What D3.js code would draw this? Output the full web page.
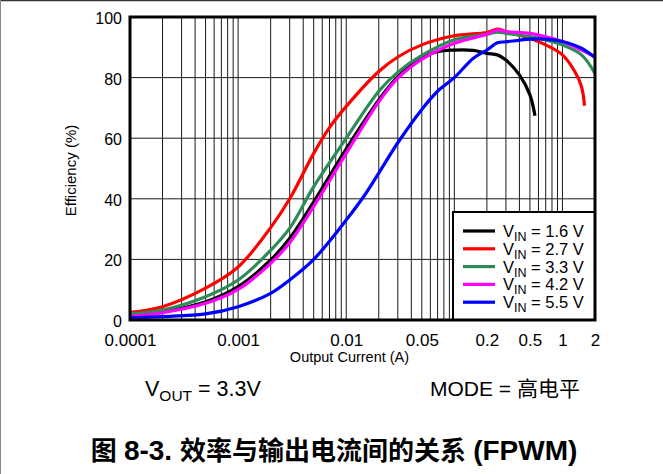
<!DOCTYPE html>
<html>
<head>
<meta charset="utf-8">
<script src="https://cdn.jsdelivr.net/npm/d3@7"></script>
<style>
  html, body { margin: 0; padding: 0; background: #fff; }
  svg { display: block; }
  text { font-family: "Liberation Sans", Arial, "Noto Sans CJK SC", sans-serif; fill: #000; }
</style>
</head>
<body>
<svg id="chart" width="663" height="474"></svg>
<script>
// Efficiency vs. output current, FPWM mode, VOUT = 3.3 V
const seriesNames = ["1.6 V", "2.7 V", "3.3 V", "4.2 V", "5.5 V"];
const seriesColors = ["#000000", "#ff0000", "#2e8b57", "#ff00ff", "#0000ff"];

const vin16X = [0.0001, 0.0002, 0.0005, 0.001, 0.002, 0.003, 0.005, 0.01, 0.02, 0.03, 0.05, 0.07, 0.1, 0.15, 0.2, 0.25, 0.3, 0.4, 0.5, 0.557];
const vin16Y = [1.7, 2.7, 6, 11, 19.8, 27, 39, 56.5, 72.6, 80.3, 86.4, 88.6, 89.1, 89, 88, 87.5, 85.8, 80.9, 74.3, 67.4];

const vin27X = [0.0001, 0.0002, 0.0005, 0.001, 0.002, 0.003, 0.005, 0.007, 0.01, 0.02, 0.03, 0.05, 0.1, 0.2, 0.25, 0.3, 0.5, 0.7, 1, 1.3, 1.5, 1.6];
const vin27Y = [2.5, 4.4, 10.5, 17.5, 30.5, 40, 55, 63.5, 70.5, 82, 86.8, 90.8, 93.8, 94.9, 96, 95.2, 93, 90.8, 87.5, 82, 77, 70.7];

const vin33X = [0.0001, 0.0002, 0.0005, 0.001, 0.002, 0.003, 0.005, 0.01, 0.02, 0.03, 0.05, 0.1, 0.2, 0.25, 0.3, 0.5, 0.7, 1, 1.5, 2];
const vin33Y = [2, 3.3, 7.7, 13.2, 23, 30.3, 44, 60, 75.5, 81.8, 87.3, 92.5, 94.3, 95, 94.6, 93.5, 92.4, 90.8, 87.5, 81.4];

const vin42X = [0.0001, 0.0002, 0.0005, 0.001, 0.002, 0.003, 0.005, 0.01, 0.02, 0.03, 0.05, 0.1, 0.2, 0.25, 0.3, 0.5, 0.7, 1, 1.5, 2];
const vin42Y = [1.2, 2.4, 5.5, 10.1, 18.7, 25.5, 37.5, 55, 72, 79.8, 86, 91.3, 94.3, 95.7, 95.2, 94.6, 93.5, 91.9, 89.1, 86.9];

const vin55X = [0.0001, 0.0002, 0.0005, 0.001, 0.002, 0.003, 0.005, 0.01, 0.015, 0.02, 0.03, 0.05, 0.07, 0.1, 0.15, 0.2, 0.25, 0.3, 0.5, 0.7, 1, 1.5, 2];
const vin55Y = [0.7, 1.1, 2, 4.4, 8.8, 13.2, 20, 33, 41.5, 48.5, 58.5, 69.5, 75.5, 80, 86.4, 89.1, 91.5, 91.8, 92.7, 92.7, 91.9, 89.7, 86.6];

const xTickValues = [0.0001, 0.001, 0.01, 0.05, 0.2, 0.5, 1, 2];
const xTickLabels = ["0.0001", "0.001", "0.01", "0.05", "0.2", "0.5", "1", "2"];
const yTickValues = [0, 20, 40, 60, 80, 100];

const seriesX = [vin16X, vin27X, vin33X, vin42X, vin55X];
const seriesY = [vin16Y, vin27Y, vin33Y, vin42Y, vin55Y];
const series = seriesNames.map((name, i) => ({
  name, color: seriesColors[i],
  points: seriesX[i].map((x, j) => ({ x, y: seriesY[i][j] }))
}));

const svg = d3.select("#chart");
const W = 663, H = 474;
const plot = { left: 130, right: 595, top: 17, bottom: 320 };

// page frame
svg.append("rect").attr("width", W).attr("height", H).attr("fill", "#fff");
svg.append("line").attr("x1", 0).attr("x2", W).attr("y1", 0.5).attr("y2", 0.5)
  .attr("stroke", "#333").attr("stroke-width", 1.5);
svg.append("line").attr("x1", 0.5).attr("x2", 0.5).attr("y1", 0).attr("y2", H)
  .attr("stroke", "#888").attr("stroke-width", 1);

const x = d3.scaleLog().domain([0.0001, 2]).range([plot.left, plot.right]);
const y = d3.scaleLinear().domain([0, 100]).range([plot.bottom, plot.top]);

// grid
const grid = svg.append("g");
grid.selectAll("line.vx")
  .data(x.ticks().filter(t => t > 0.0001 && t < 2))
  .join("line")
  .attr("x1", d => x(d)).attr("x2", d => x(d))
  .attr("y1", plot.top).attr("y2", plot.bottom)
  .attr("stroke", "#1a1a1a").attr("stroke-width", 1);
grid.selectAll("line.hy")
  .data(yTickValues.filter(t => t > 0 && t < 100))
  .join("line")
  .attr("x1", plot.left).attr("x2", plot.right)
  .attr("y1", d => y(d)).attr("y2", d => y(d))
  .attr("stroke", "#1a1a1a").attr("stroke-width", 1);

// curves
svg.append("clipPath").attr("id", "plotClip")
  .append("rect").attr("x", plot.left).attr("y", plot.top)
  .attr("width", plot.right - plot.left).attr("height", plot.bottom - plot.top);

const line = d3.line().x(d => x(d.x)).y(d => y(d.y)).curve(d3.curveCatmullRom.alpha(0.5));
svg.append("g").attr("clip-path", "url(#plotClip)")
  .selectAll("path")
  .data(series)
  .join("path")
  .attr("d", d => line(d.points))
  .attr("fill", "none")
  .attr("stroke", d => d.color)
  .attr("stroke-width", 3.2)
  .attr("stroke-linejoin", "round");

// legend
const lg = { x0: 453, y0: 212 };
svg.append("rect")
  .attr("x", lg.x0).attr("y", lg.y0)
  .attr("width", plot.right - lg.x0).attr("height", plot.bottom - lg.y0)
  .attr("fill", "#fff").attr("stroke", "#000").attr("stroke-width", 2);
const rows = svg.append("g").selectAll("g").data(series).join("g")
  .attr("transform", (d, i) => `translate(0, ${231 + i * 17.8})`);
rows.append("line").attr("x1", 463).attr("x2", 495).attr("y1", 0).attr("y2", 0)
  .attr("stroke", d => d.color).attr("stroke-width", 3.2);
const lt = rows.append("text").attr("x", 503).attr("y", 6).attr("font-size", 16.5);
lt.append("tspan").text("V");
lt.append("tspan").attr("dy", 4).attr("font-size", 12.5).text("IN");
lt.append("tspan").attr("dy", -4).text(d => " = " + d.name);

// plot border
svg.append("rect")
  .attr("x", plot.left).attr("y", plot.top)
  .attr("width", plot.right - plot.left).attr("height", plot.bottom - plot.top)
  .attr("fill", "none").attr("stroke", "#000").attr("stroke-width", 3);

// axes (labels only; grid and frame drawn above)
const xAxis = d3.axisBottom(x).tickValues(xTickValues)
  .tickFormat((d, i) => xTickLabels[i]).tickSize(0).tickPadding(0);
const gx = svg.append("g").attr("transform", `translate(0, ${plot.bottom})`).call(xAxis);
gx.select(".domain").remove();
gx.selectAll("text").attr("font-size", 17).attr("dy", null).attr("y", 26)
  .attr("font-family", '"Liberation Sans", Arial, sans-serif');

const yAxis = d3.axisLeft(y).tickValues(yTickValues).tickSize(0).tickPadding(0);
const gy = svg.append("g").attr("transform", `translate(${plot.left - 8}, 0)`).call(yAxis);
gy.select(".domain").remove();
gy.selectAll("text").attr("font-size", 16).attr("dy", "0.4em")
  .attr("font-family", '"Liberation Sans", Arial, sans-serif');

// axis titles
svg.append("text").attr("x", (plot.left + plot.right) / 2 - 13).attr("y", 362)
  .attr("text-anchor", "middle").attr("font-size", 14.5).text("Output Current (A)");
svg.append("text").attr("transform", `translate(76, ${(plot.top + plot.bottom) / 2 + 2}) rotate(-90)`)
  .attr("text-anchor", "middle").attr("font-size", 15).text("Efficiency (%)");

// operating conditions
const vout = svg.append("text").attr("x", 145).attr("y", 396).attr("font-size", 21.5);
vout.append("tspan").text("V");
vout.append("tspan").attr("dy", 5).attr("font-size", 15.5).text("OUT");
vout.append("tspan").attr("dy", -5).text(" = 3.3V");
svg.append("text").attr("x", 430).attr("y", 396).attr("font-size", 21).text("MODE = 高电平");

// caption: Latin runs a little larger than the CJK run
const cap = svg.append("text").attr("x", 334).attr("y", 460)
  .attr("text-anchor", "middle").attr("font-weight", "bold");
cap.append("tspan").attr("font-size", 26).text("图 ");
cap.append("tspan").attr("font-size", 28).text("8-3. ");
cap.append("tspan").attr("font-size", 26).text("效率与输出电流间的关系 ");
cap.append("tspan").attr("font-size", 28).text("(FPWM)");
</script>
</body>
</html>
